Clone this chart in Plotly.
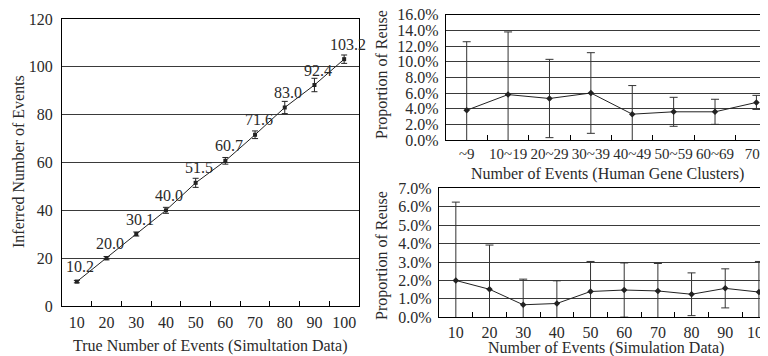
import plotly.graph_objects as go

# ---------------- data ----------------
true_events = ["10", "20", "30", "40", "50", "60", "70", "80", "90", "100"]
inferred_mean = [10.2, 20.0, 30.1, 40.0, 51.5, 60.7, 71.6, 83.0, 92.4, 103.2]
inferred_err = [0.5, 0.7, 0.85, 1.25, 1.9, 1.4, 1.6, 2.55, 2.8, 1.75]
inferred_text = ["10.2", "20.0", "30.1", "40.0", "51.5", "60.7", "71.6", "83.0", "92.4", "103.2"]

human_groups = ["~9", "10~19", "20~29", "30~39", "40~49", "50~59", "60~69", "70~"]
human_reuse = [3.8, 5.8, 5.3, 6.0, 3.3, 3.6, 3.6, 4.8]
human_err = [8.75, 8.0, 5.0, 5.15, 3.65, 1.85, 1.6, 0.9]

sim_events = ["10", "20", "30", "40", "50", "60", "70", "80", "90", "100"]
sim_reuse = [2.0, 1.52, 0.68, 0.75, 1.4, 1.48, 1.43, 1.25, 1.57, 1.37]
sim_err = [4.25, 2.4, 1.39, 1.23, 1.63, 1.47, 1.49, 1.16, 1.06, 1.66]

FONT = "Liberation Serif"
TXT = "#2a2a2a"
GRID = "#3a3a3a"

# page body has an 8px default margin; figure is sized to fill the rest of the window
OFF = 8
W, H = 768 - OFF, 356 - OFF

def px(X):
    return (X - OFF) / W

def py(Y):
    return 1 - (Y - OFF) / H

fig = go.Figure()

fig.add_trace(go.Scatter(
    x=true_events, y=inferred_mean, mode="lines+markers",
    line=dict(color="#222", width=1),
    marker=dict(symbol="square", size=4, color="#222"),
    error_y=dict(type="data", array=inferred_err, color="#222", thickness=1, width=3),
    xaxis="x", yaxis="y", showlegend=False))

# value labels (category index on the category axis)
for i, (val, lab) in enumerate(zip(inferred_mean, inferred_text)):
    fig.add_annotation(x=i, y=val, xref="x", yref="y", text=lab, showarrow=False,
                       xanchor="center", yanchor="middle", xshift=3.5, yshift=15,
                       font=dict(family=FONT, size=16, color=TXT))

fig.add_trace(go.Scatter(
    x=human_groups, y=human_reuse, mode="lines+markers",
    line=dict(color="#222", width=1),
    marker=dict(symbol="diamond", size=5, color="#222"),
    error_y=dict(type="data", array=human_err, color="#333", thickness=1, width=4),
    xaxis="x2", yaxis="y2", showlegend=False))

fig.add_trace(go.Scatter(
    x=sim_events, y=sim_reuse, mode="lines+markers",
    line=dict(color="#222", width=1),
    marker=dict(symbol="diamond", size=5, color="#222"),
    error_y=dict(type="data", array=sim_err, color="#333", thickness=1, width=4),
    xaxis="x3", yaxis="y3", showlegend=False))

tickfont = dict(family=FONT, size=16, color=TXT)
common_x = dict(type="category", tickson="boundaries", ticks="inside", ticklen=5,
                tickcolor="#000", showline=True, linecolor="#000", linewidth=1.2,
                showgrid=False, tickangle=0, automargin=False, fixedrange=True,
                ticklabeloverflow="allow")
common_y = dict(showline=True, linecolor="#000", linewidth=1.2, showgrid=True,
                gridcolor=GRID, gridwidth=1, ticks="", tickfont=tickfont,
                zeroline=False, automargin=False, fixedrange=True,
                ticklabeloverflow="allow")

fig.update_layout(
    width=W, height=H,
    margin=dict(l=0, r=0, t=0, b=0, autoexpand=False),
    paper_bgcolor="white", plot_bgcolor="white",
    font=dict(family=FONT, size=16, color=TXT),
    xaxis=dict(domain=[px(62), px(359)], range=[-0.5, 9.5], mirror=True,
               categoryorder="array", categoryarray=true_events, anchor="y",
               ticklabelstandoff=2, tickfont=tickfont, **common_x),
    yaxis=dict(domain=[py(306), py(19)], range=[0, 120], dtick=20, mirror=True,
               anchor="x", ticklabelstandoff=5, **common_y),
    xaxis2=dict(domain=[px(446), 1.0], range=[-0.5, 7.28], mirror=True,
                categoryorder="array", categoryarray=human_groups, anchor="y2",
                ticklabelstandoff=0, tickfont=dict(family=FONT, size=15, color=TXT),
                **common_x),
    yaxis2=dict(domain=[py(140), py(14.7)], range=[0, 16], dtick=2, tickformat=".1f",
                ticksuffix="%", anchor="x2", ticklabelstandoff=3, **common_y),
    xaxis3=dict(domain=[px(439), 1.0], range=[-0.5, 9.27], mirror=True,
                categoryorder="array", categoryarray=sim_events, anchor="y3",
                ticklabelstandoff=0, tickfont=tickfont, **common_x),
    yaxis3=dict(domain=[py(317.3), py(188.3)], range=[0, 7], dtick=1, tickformat=".1f",
                ticksuffix="%", anchor="x3", ticklabelstandoff=3, **common_y),
)

def ann(text, x, y, angle=0):
    fig.add_annotation(text=text, x=px(x), y=py(y), xref="paper", yref="paper",
                       showarrow=False, textangle=angle, xanchor="center", yanchor="middle",
                       font=dict(family=FONT, size=16, color=TXT))

ann("True Number of Events (Simultation Data)", 210, 346)
ann("Inferred Number of Events", 18, 162, -90)
ann("Number of Events (Human Gene Clusters)", 607, 174)
ann("Proportion of Reuse", 382, 75, -90)
ann("Number of Events (Simulation Data)", 606, 348)
ann("Proportion of Reuse", 382, 256, -90)

fig.write_html("out.html")
